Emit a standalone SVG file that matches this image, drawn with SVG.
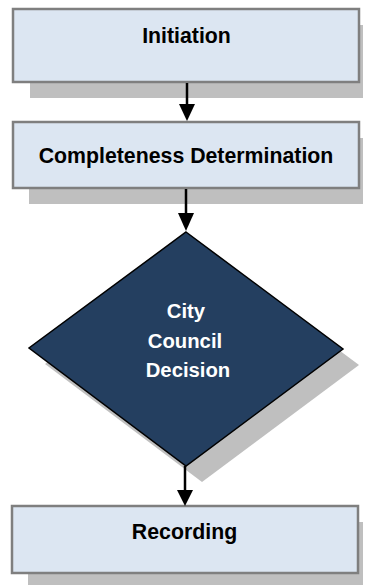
<svg xmlns="http://www.w3.org/2000/svg" width="367" height="585" viewBox="0 0 367 585">
  <style>
    .shadow { fill: #BFBFBF; stroke: none; }
    .box { fill: #DCE6F2; stroke: #7F7F7F; stroke-width: 2.5; }
    .dia { fill: #243F60; stroke: #000000; stroke-width: 1.5; }
    .lbl { font-family: "Liberation Sans", Arial, sans-serif; font-weight: bold; font-size: 21.3px; fill: #000000; text-anchor: middle; }
    .dlbl { font-family: "Liberation Sans", Arial, sans-serif; font-weight: bold; font-size: 20.3px; fill: #FFFFFF; text-anchor: middle; }
    .conn { stroke: #000000; stroke-width: 2.5; fill: none; }
    .head { fill: #000000; stroke: none; }
  </style>
  <rect width="367" height="585" fill="#FFFFFF"/>

  <g id="node-initiation">
    <rect class="shadow" x="30" y="25" width="333" height="73"/>
    <rect class="box" x="13" y="9" width="346" height="73"/>
    <text class="lbl" x="186.5" y="43">Initiation</text>
  </g>

  <g id="node-completeness">
    <rect class="shadow" x="29" y="138" width="334" height="66"/>
    <rect class="box" x="13" y="122" width="346" height="66"/>
    <text class="lbl" x="186" y="163">Completeness Determination</text>
  </g>

  <g id="node-decision">
    <polygon class="shadow" points="202,248 359,365 202,482 45,364"/>
    <polygon class="dia" points="186,232 343,349 186,466 29,348"/>
    <text class="dlbl" x="186" y="318">City</text>
    <text class="dlbl" x="185" y="348">Council</text>
    <text class="dlbl" x="188" y="377">Decision</text>
  </g>

  <g id="node-recording">
    <rect class="shadow" x="28" y="522" width="335" height="67"/>
    <rect class="box" x="12" y="506" width="346" height="67"/>
    <text class="lbl" x="184.5" y="539">Recording</text>
  </g>

  <g id="connectors">
    <line class="conn" x1="187" y1="83" x2="187" y2="105"/>
    <polygon class="head" points="179,104 195,104 187,121"/>
    <line class="conn" x1="186" y1="189" x2="186" y2="214"/>
    <polygon class="head" points="178,213 194,213 186,231"/>
    <line class="conn" x1="185" y1="466" x2="185" y2="491"/>
    <polygon class="head" points="177,490 193,490 185,506"/>
  </g>
</svg>
